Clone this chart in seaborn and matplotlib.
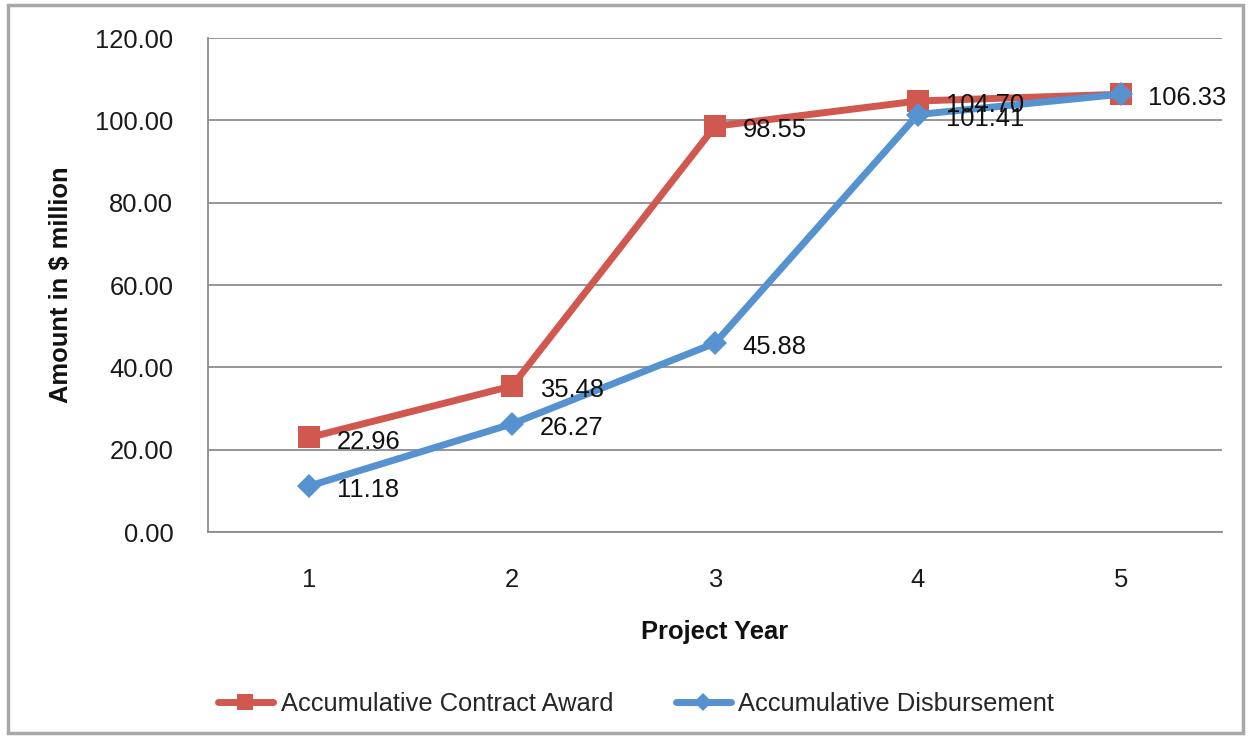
import matplotlib
matplotlib.use("Agg")
import matplotlib.pyplot as plt
import seaborn as sns
import pandas as pd
from matplotlib.patches import Rectangle
from matplotlib.lines import Line2D
from matplotlib.ticker import FixedLocator, FormatStrFormatter

years = [1, 2, 3, 4, 5]
contract_award = [22.96, 35.48, 98.55, 104.70, 106.33]
disbursement = [11.18, 26.27, 45.88, 101.41, 106.33]
series_names = ["Accumulative Contract Award", "Accumulative Disbursement"]

df = pd.DataFrame({
    "Project Year": years * 2,
    "Amount": contract_award + disbursement,
    "Series": [series_names[0]] * 5 + [series_names[1]] * 5,
})

sns.set_style("white")
plt.rcParams["font.family"] = ["Liberation Sans", "DejaVu Sans"]

RED = "#D0584F"
BLUE = "#5592CF"
GRID = "#8C8C8C"
FS = 18.4

fig = plt.figure(figsize=(12.51, 7.38), dpi=100)
ax = fig.add_axes([208 / 1251, 1 - 532 / 738, (1222 - 208) / 1251, (532 - 38) / 738])

sns.lineplot(data=df, x="Project Year", y="Amount", hue="Series", style="Series",
             markers={series_names[0]: "s", series_names[1]: "D"},
             dashes=False, palette={series_names[0]: RED, series_names[1]: BLUE},
             linewidth=5, markersize=15.5, markeredgewidth=0, ax=ax, legend=False,
             zorder=3)
lines = ax.get_lines()
if len(lines) >= 2:
    lines[1].set_markersize(12.5)

ax.set_xlim(0.5, 5.5)
ax.set_ylim(0, 120)
ax.yaxis.set_major_locator(FixedLocator([0, 20, 40, 60, 80, 100, 120]))
ax.yaxis.set_major_formatter(FormatStrFormatter("%.2f"))
ax.set_xticks(years)
ax.set_xticklabels([str(y) for y in years])
ax.set_xticks([0.5, 1.5, 2.5, 3.5, 4.5, 5.5], minor=True)

ax.grid(axis="y", color=GRID, linewidth=1.3)
ax.grid(axis="x", visible=False)
ax.set_axisbelow(True)
for s in ["top", "right"]:
    ax.spines[s].set_visible(False)
for s in ["left", "bottom"]:
    ax.spines[s].set_color(GRID)
    ax.spines[s].set_linewidth(1.3)

ax.tick_params(axis="y", which="major", length=5, width=1.3, color=GRID,
               direction="out", pad=20, labelsize=FS, labelcolor="#1a1a1a")
ax.tick_params(axis="x", which="major", length=0, pad=26, labelsize=FS,
               labelcolor="#1a1a1a")
ax.tick_params(axis="x", which="minor", length=6, width=1.3, color=GRID,
               direction="out")

ax.set_xlabel("Project Year", fontsize=FS, fontweight="bold", labelpad=20,
              color="#111111")
ax.set_ylabel("Amount in $ million", fontsize=FS, fontweight="bold", labelpad=16,
              color="#111111")

for vals in (contract_award, disbursement):
    for x, v in zip(years, vals):
        if vals is disbursement and x == 5:
            continue
        ax.annotate(f"{v:.2f}", (x, v), xytext=(20, -3), textcoords="offset points",
                    ha="left", va="center", fontsize=FS, color="#111111", zorder=4)

handles = [
    Line2D([], [], color=RED, lw=5, marker="s", markersize=11, markeredgewidth=0),
    Line2D([], [], color=BLUE, lw=5, marker="D", markersize=9, markeredgewidth=0),
]
fig.legend(handles, series_names, loc="center", bbox_to_anchor=(636 / 1251, 1 - 704 / 738),
           ncol=2, frameon=False, fontsize=FS, handlelength=2.15, columnspacing=2.45,
           handletextpad=0.3)

fig.patches.append(Rectangle((8 / 1251, 5 / 738), (1243 - 8) / 1251, (733 - 5) / 738,
                             transform=fig.transFigure, fill=False,
                             edgecolor="#A8A8A8", linewidth=2.5))

fig.savefig("out.png", dpi=100, facecolor="white")
